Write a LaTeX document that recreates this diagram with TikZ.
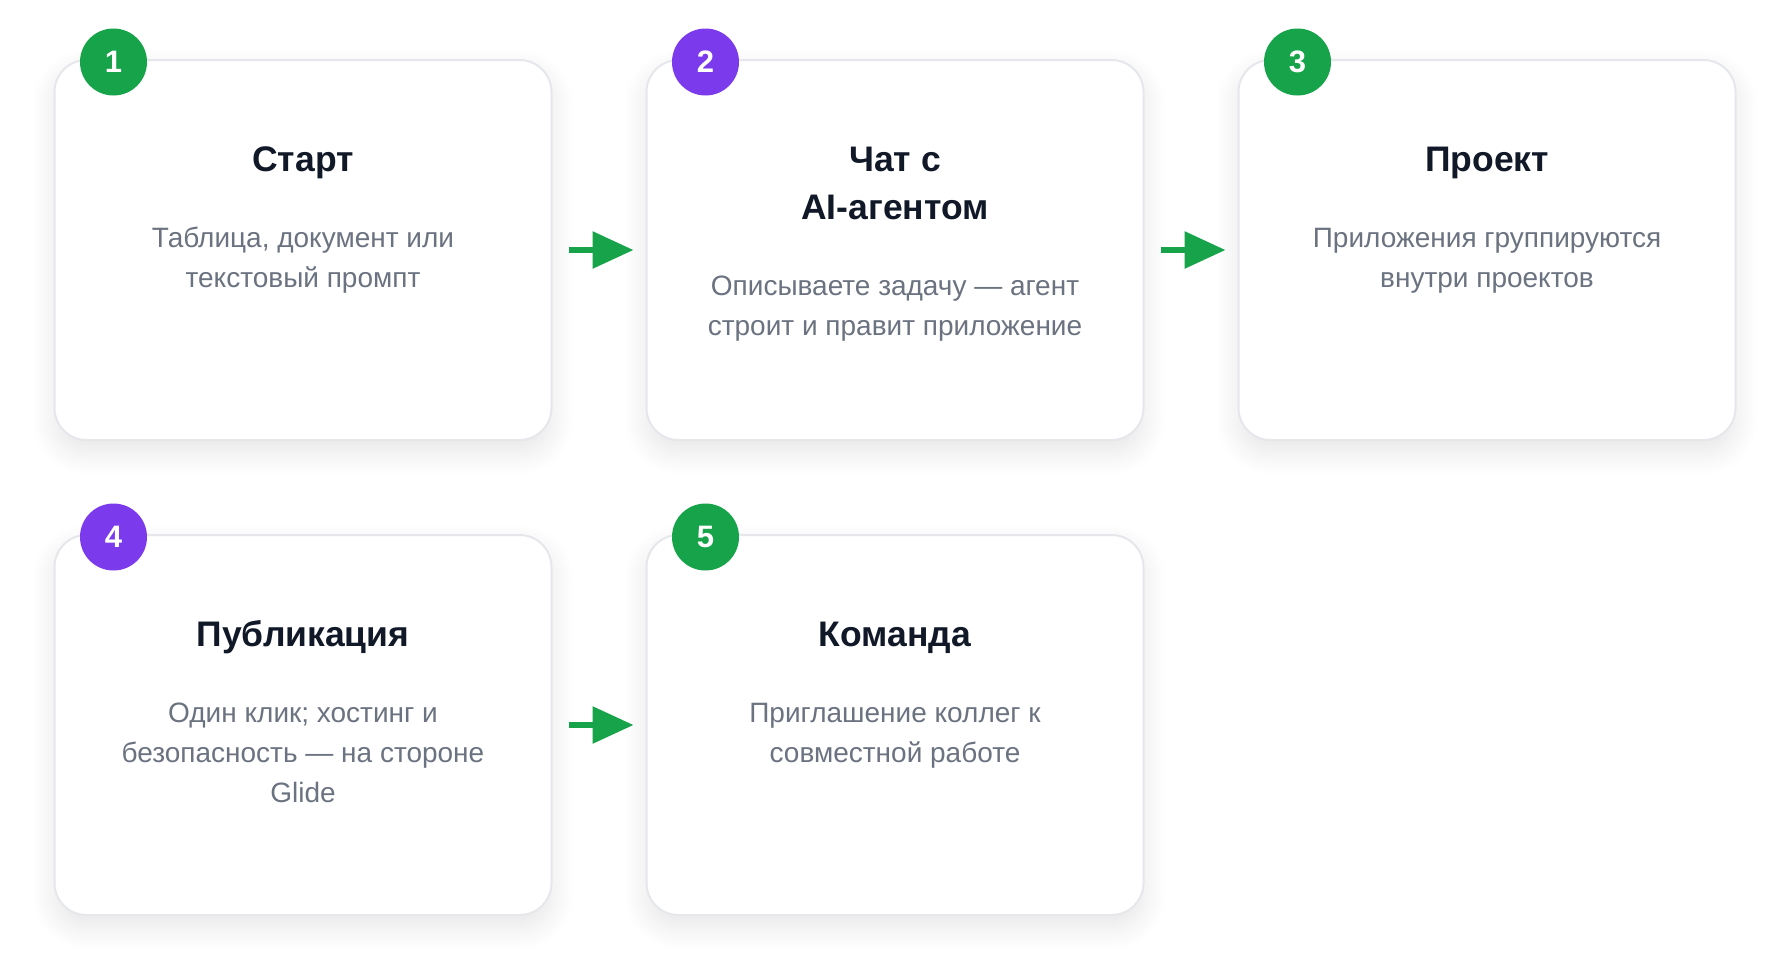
\documentclass[tikz,border=0pt]{standalone}
\usepackage{fontspec}
\setmainfont{Liberation Sans}
\usetikzlibrary{positioning, arrows.meta, shadows.blur}

\definecolor{stepgreen}{HTML}{16A34A}
\definecolor{steppurple}{HTML}{7C3AED}
\definecolor{titlecol}{HTML}{111827}
\definecolor{desccol}{HTML}{6B7280}
\definecolor{cardline}{HTML}{E5E7EB}

\begin{document}
\begin{tikzpicture}[node distance=93pt,
  card/.style={rectangle,
    rounded corners=32pt,
    minimum width=497pt,
    minimum height=380pt,
    draw=cardline, line width=2pt, fill=white,
    blur shadow={shadow xshift=0pt, shadow yshift=-12pt,
      shadow blur radius=22pt, shadow opacity=10, shadow blur steps=12}},
  badge/.style={circle, minimum size=67pt, inner sep=0pt,
    fill=#1, text=white, font=\fontsize{31}{31}\selectfont\bfseries},
  ttl/.style={align=center, inner sep=0pt, text=titlecol,
    font=\fontsize{35.5}{48}\selectfont\bfseries},
  dsc/.style={align=center, inner sep=0pt, text=desccol,
    font=\fontsize{28}{40}\selectfont},
  arr/.style={draw=stepgreen, line width=6pt,
    -{Triangle[length=41pt, width=36pt]}}]

  \useasboundingbox (0pt,0pt) rectangle (1790pt,-977pt);

  % cards
  \node (c1) [card] at (303pt,-250pt) {};
  \node (c2) [card, right = of c1] {};
  \node (c3) [card, right = of c2] {};
  \node (c4) [card, below = of c1] {};
  \node (c5) [card, right = of c4] {};

  % numbers
  \node (b1) [badge=stepgreen]  at ([xshift=60pt, yshift=-3pt]c1.north west) {1};
  \node (b2) [badge=steppurple] at ([xshift=60pt, yshift=-3pt]c2.north west) {2};
  \node (b3) [badge=stepgreen]  at ([xshift=60pt, yshift=-3pt]c3.north west) {3};
  \node (b4) [badge=steppurple] at ([xshift=60pt, yshift=-3pt]c4.north west) {4};
  \node (b5) [badge=stepgreen]  at ([xshift=60pt, yshift=-3pt]c5.north west) {5};

  % titles (base = last line)
  \node (t1) [ttl, anchor=base] at ([yshift=-112pt]c1.north) {Старт};
  \node (t2) [ttl, anchor=base] at ([yshift=-160pt]c2.north) {Чат с\\AI-агентом};
  \node (t3) [ttl, anchor=base] at ([yshift=-112pt]c3.north) {Проект};
  \node (t4) [ttl, anchor=base] at ([yshift=-112pt]c4.north) {Публикация};
  \node (t5) [ttl, anchor=base] at ([yshift=-112pt]c5.north) {Команда};

  % descriptions
  \node (d1) [dsc, below = 116pt of t1.base, anchor=base] {Таблица, документ или\\текстовый промпт};
  \node (d2) [dsc, below = 116pt of t2.base, anchor=base] {Описываете задачу — агент\\строит и правит приложение};
  \node (d3) [dsc, below = 116pt of t3.base, anchor=base] {Приложения группируются\\внутри проектов};
  \node (d4) [dsc, below = 156pt of t4.base, anchor=base] {Один клик; хостинг и\\безопасность — на стороне\\Glide};
  \node (d5) [dsc, below = 116pt of t5.base, anchor=base] {Приглашение коллег к\\совместной работе};

  % arrows
  \draw[arr] ([xshift=16pt]c1.east) -- ([xshift=-12pt]c2.west);
  \draw[arr] ([xshift=16pt]c2.east) -- ([xshift=-12pt]c3.west);
  \draw[arr] ([xshift=16pt]c4.east) -- ([xshift=-12pt]c5.west);
\end{tikzpicture}
\end{document}
